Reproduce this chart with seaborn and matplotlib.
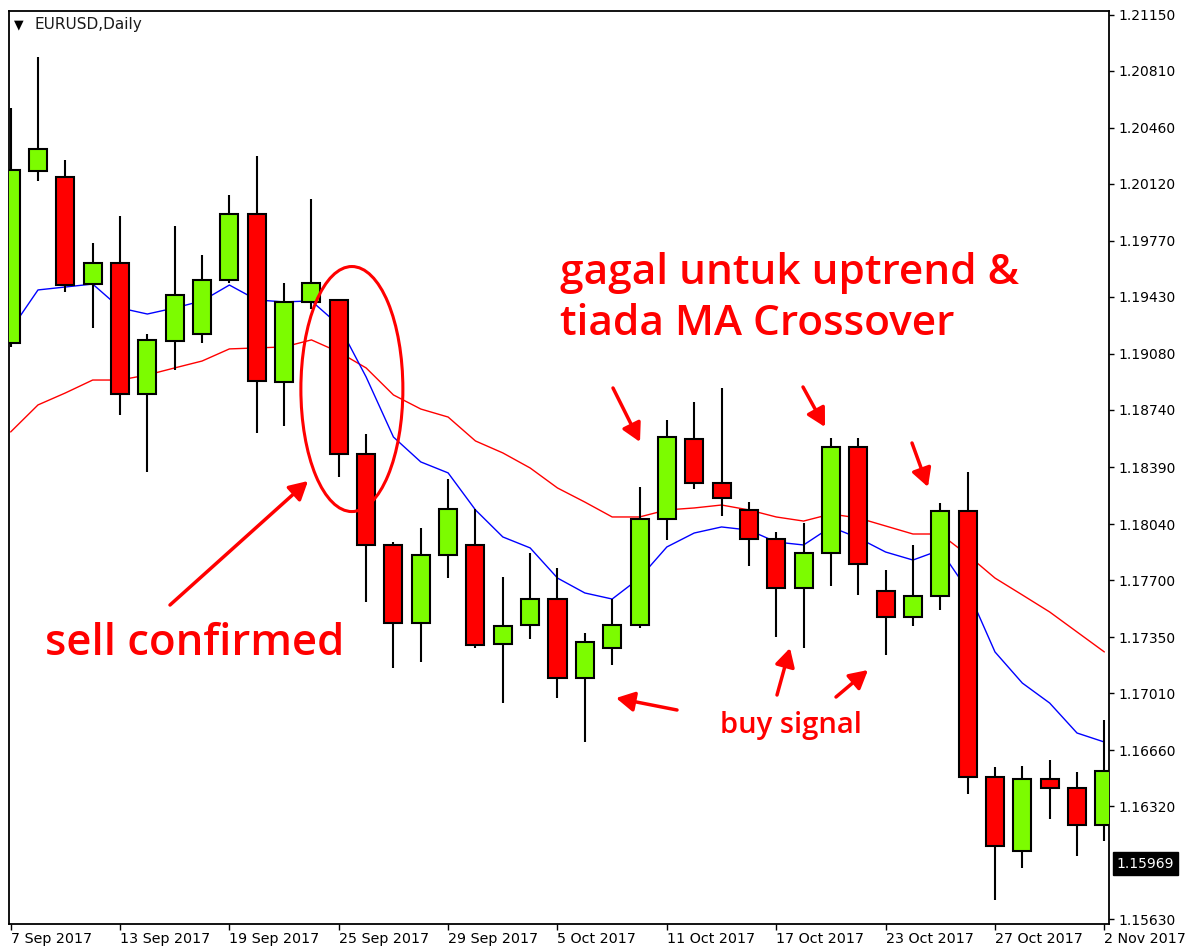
import matplotlib
matplotlib.use('Agg')
import matplotlib.pyplot as plt
from matplotlib.patches import Ellipse
import numpy as np
import pandas as pd
import seaborn as sns

# daily EURUSD candles, 7 Sep 2017 .. 2 Nov 2017 (41 bars)
opens = [1.19147, 1.20197, 1.20161, 1.19507, 1.19636, 1.18836, 1.19159, 1.19202, 1.19532, 1.19935,
         1.18909, 1.19398, 1.19410, 1.18470, 1.17914, 1.17438, 1.17853, 1.17914, 1.17309, 1.17425,
         1.17584, 1.17102, 1.17285, 1.17425, 1.18073, 1.18561, 1.18292, 1.18128, 1.17951, 1.17651,
         1.17865, 1.18512, 1.17633, 1.17474, 1.17602, 1.18121, 1.16497, 1.16045, 1.16485, 1.16430,
         1.16204]
highs = [1.20582, 1.20894, 1.20265, 1.19758, 1.19923, 1.19202, 1.19862, 1.19685, 1.20051, 1.20289,
         1.19514, 1.20027, 1.19416, 1.18592, 1.17932, 1.18018, 1.18317, 1.18134, 1.17718, 1.17865,
         1.17773, 1.17377, 1.17584, 1.18268, 1.18677, 1.18787, 1.18873, 1.18176, 1.17993, 1.18048,
         1.18567, 1.18567, 1.17761, 1.17914, 1.18170, 1.18360, 1.16558, 1.16564, 1.16601, 1.16528,
         1.16845]
lows = [1.19123, 1.20136, 1.19459, 1.19239, 1.18708, 1.18360, 1.18982, 1.19147, 1.19514, 1.18598,
        1.18640, 1.19355, 1.18329, 1.17566, 1.17163, 1.17199, 1.17712, 1.17285, 1.16949, 1.17340,
        1.16980, 1.16711, 1.17181, 1.17407, 1.17944, 1.18256, 1.18091, 1.17786, 1.17352, 1.17285,
        1.17664, 1.17609, 1.17242, 1.17419, 1.17517, 1.16393, 1.15746, 1.15942, 1.16241, 1.16015,
        1.16106]
closes = [1.20204, 1.20332, 1.19501, 1.19636, 1.18836, 1.19166, 1.19440, 1.19532, 1.19935, 1.18915,
          1.19398, 1.19514, 1.18470, 1.17914, 1.17438, 1.17853, 1.18134, 1.17303, 1.17419, 1.17584,
          1.17102, 1.17322, 1.17425, 1.18073, 1.18573, 1.18292, 1.18201, 1.17951, 1.17651, 1.17865,
          1.18512, 1.17798, 1.17474, 1.17602, 1.18121, 1.16497, 1.16076, 1.16485, 1.16430, 1.16204,
          1.16534]

# moving averages
ma_fast = [1.19227, 1.19471, 1.19489, 1.19507, 1.19361, 1.19324, 1.19361, 1.19404, 1.19501, 1.19410,
           1.19398, 1.19404, 1.19257, 1.18940, 1.18573, 1.18421, 1.18354, 1.18128, 1.17963, 1.17896,
           1.17712, 1.17621, 1.17584, 1.17712, 1.17902, 1.17987, 1.18024, 1.18005, 1.17932, 1.17914,
           1.18024, 1.17957, 1.17871, 1.17822, 1.17883, 1.17639, 1.17261, 1.17071, 1.16949, 1.16766,
           1.16711]
ma_slow = [1.18604, 1.18769, 1.18842, 1.18921, 1.18921, 1.18952, 1.18995, 1.19037, 1.19111, 1.19117,
           1.19123, 1.19166, 1.19092, 1.18995, 1.18830, 1.18744, 1.18695, 1.18549, 1.18476, 1.18384,
           1.18262, 1.18176, 1.18085, 1.18085, 1.18128, 1.18140, 1.18158, 1.18128, 1.18085, 1.18060,
           1.18103, 1.18079, 1.18030, 1.17981, 1.17981, 1.17853, 1.17712, 1.17609, 1.17505, 1.17383,
           1.17261]

date_idx = [0, 4, 8, 12, 16, 20, 24, 28, 32, 36, 40]
date_labels = ['7 Sep 2017', '13 Sep 2017', '19 Sep 2017', '25 Sep 2017', '29 Sep 2017', '5 Oct 2017',
               '11 Oct 2017', '17 Oct 2017', '23 Oct 2017', '27 Oct 2017', '2 Nov 2017']
price_labels = ['1.21150', '1.20810', '1.20460', '1.20120', '1.19770', '1.19430', '1.19080', '1.18740',
                '1.18390', '1.18040', '1.17700', '1.17350', '1.17010', '1.16660', '1.16320', '1.15630']
last_price = 1.15969

sns.set_style('white')
plt.rcParams['font.family'] = ['DejaVu Sans']

W, H = 1189, 952
fig = plt.figure(figsize=(W / 100, H / 100), dpi=100)
ax = fig.add_axes([9 / W, 1 - 924 / H, 1100 / W, 913 / H])

df = pd.DataFrame({'i': np.arange(len(opens)), 'open': opens, 'high': highs, 'low': lows,
                   'close': closes, 'ma_fast': ma_fast, 'ma_slow': ma_slow})

# MAs sit behind the candles
sns.lineplot(data=df, x='i', y='ma_slow', color='#ff0000', lw=1, ax=ax, zorder=1)
sns.lineplot(data=df, x='i', y='ma_fast', color='#0000ff', lw=1, ax=ax, zorder=1)

up = df['close'] >= df['open']
body_lo = np.minimum(df['open'], df['close'])
body_h = (df['close'] - df['open']).abs()
ax.vlines(df['i'], df['low'], df['high'], color='black', lw=1.5, zorder=2)
ax.bar(df['i'], body_h, bottom=body_lo, width=0.66, color=np.where(up, '#7cfc00', '#ff0000'),
       edgecolor='black', lw=1.5, zorder=3)

ax.set_xlim(-0.06, 40.17)
ax.set_ylim(1.15600, 1.21174)
ax.set_xlabel('')
ax.set_ylabel('')

ax.yaxis.tick_right()
ax.set_yticks([float(p) for p in price_labels])
ax.set_yticklabels(price_labels)
ax.set_xticks(date_idx)
ax.set_xticklabels(date_labels)
for lbl in ax.get_xticklabels():
    lbl.set_ha('left')
ax.tick_params(axis='y', right=True, left=False, length=3.5, width=1, pad=3, labelsize=10, colors='black')
ax.tick_params(axis='x', bottom=True, length=4, width=1, pad=2, labelsize=10.3, colors='black')
for s in ax.spines.values():
    s.set_color('black')
    s.set_linewidth(1.3)

# current price box on the price scale
ax.text(1.007, last_price, f'{last_price:.5f}', transform=ax.get_yaxis_transform(), color='white',
        fontsize=10, va='center', ha='left',
        bbox=dict(boxstyle='square,pad=0.3', facecolor='black', edgecolor='black'))

# header
fig.text(14 / W, 1 - 25 / H, '\u25bc', fontsize=9, va='center', color='black')
fig.text(35 / W, 1 - 25 / H, 'EURUSD,Daily', fontsize=11, va='center', color='#1a1a1a')


def fp(x, y):
    return (x / W, 1 - y / H)


# annotations
ax.add_patch(Ellipse((12.48, 1.18866), 3.73, 0.01496, fill=False, edgecolor='red', lw=2.2, zorder=4))

note_font = dict(color='red', family='Open Sans', weight='semibold', va='baseline', ha='left')
fig.text(*fp(560, 284), 'gagal untuk uptrend &', fontsize=30.5, **note_font)
fig.text(*fp(560, 335), 'tiada MA Crossover', fontsize=30.5, **note_font)
fig.text(*fp(45, 655), 'sell confirmed', fontsize=31.5, **note_font)
fig.text(*fp(720, 733), 'buy signal', fontsize=21, **note_font)

arrows = [((170, 605), (308, 481)),
          ((613, 388), (640, 442)),
          ((803, 387), (825, 427)),
          ((912, 443), (928, 487)),
          ((677, 710), (616, 698)),
          ((777, 695), (790, 648)),
          ((836, 697), (868, 670))]
for tail, tip in arrows:
    ax.annotate('', xy=fp(*tip), xytext=fp(*tail), xycoords='figure fraction',
                textcoords='figure fraction',
                arrowprops=dict(arrowstyle='-|>,head_length=0.55,head_width=0.3', mutation_scale=20,
                                color='red', lw=2.5, shrinkA=0, shrinkB=0))

fig.savefig('out.png', dpi=100, facecolor='white')
